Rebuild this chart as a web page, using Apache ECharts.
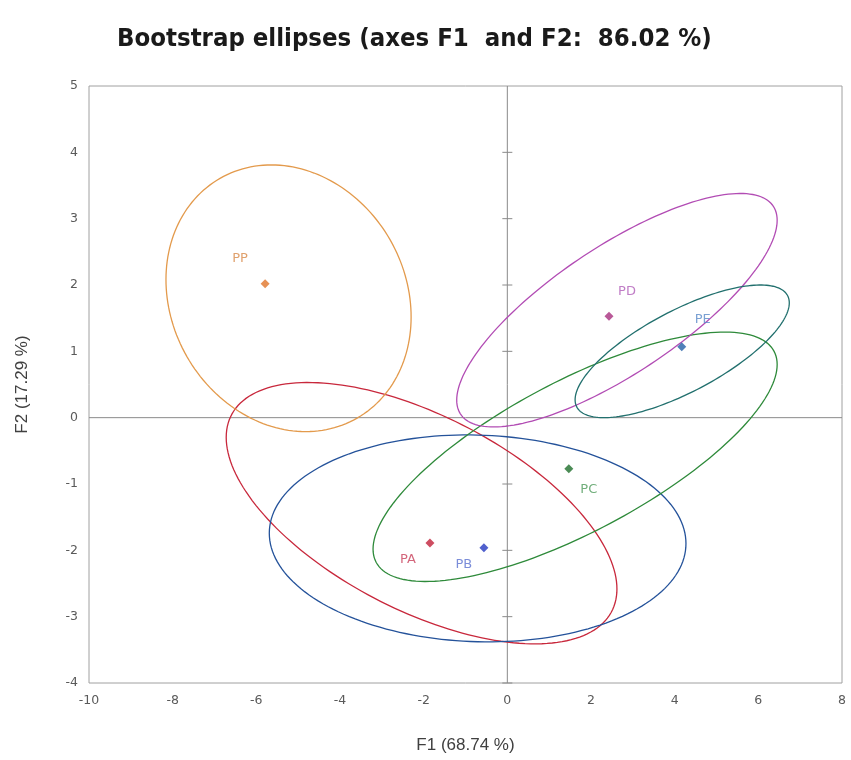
<!DOCTYPE html>
<html>
<head>
<meta charset="utf-8">
<script src="https://cdn.jsdelivr.net/npm/echarts@6/dist/echarts.min.js"></script>
<style>html,body{margin:0;padding:0;background:#fff;}#chart{width:851px;height:760px;}</style>
</head>
<body>
<div id="chart"></div>
<script>
// ---- data ----
const groupNames = ['PA', 'PB', 'PC', 'PD', 'PE', 'PP'];
const pointF1 = [-1.85, -0.56, 1.47, 2.43, 4.17, -5.79];
const pointF2 = [-1.89, -1.96, -0.77, 1.53, 1.07, 2.02];
// bootstrap ellipses: centre, half extent along F1, half extent along F2, correlation
const ellipseCenterF1 = [-2.05, -0.71, 1.62, 2.62, 4.18, -5.23];
const ellipseCenterF2 = [-1.44, -1.82, -0.59, 1.62, 1.00, 1.80];
const ellipseHalfF1 = [4.67, 4.98, 4.83, 3.83, 2.56, 2.93];
const ellipseHalfF2 = [1.97, 1.56, 1.88, 1.76, 1.00, 2.01];
const ellipseCorr = [-0.58, -0.05, 0.74, 0.77, 0.73, -0.14];
const yCrossTicks = [-4, -3, -2, -1, 1, 2, 3, 4];

// ---- styles ----
const ellipseColors = { PA: '#c8283c', PB: '#24529a', PC: '#2e8a3a', PD: '#b24cb4', PE: '#22706e', PP: '#e39a4c' };
const pointColors = { PA: '#c0203a', PB: '#2438c0', PC: '#1e6e2a', PD: '#a8307e', PE: '#2460a8', PP: '#e0762a' };
const labelColors = { PA: '#c8405a', PB: '#5a70d0', PC: '#4e9a5a', PD: '#b05cb8', PE: '#5a8ac8', PP: '#d88a48' };
const labelOffsets = { PA: [-22, 17], PB: [-20, 17], PC: [20, 21], PD: [18, -25], PE: [21, -27], PP: [-25, -25] };

const ellipseData = groupNames.map((n, i) => [ellipseCenterF1[i], ellipseCenterF2[i], ellipseHalfF1[i], ellipseHalfF2[i], ellipseCorr[i], i]);
const pointData = groupNames.map((n, i) => ({
  name: n,
  value: [pointF1[i], pointF2[i]],
  itemStyle: { color: pointColors[n] },
  label: { color: labelColors[n], offset: labelOffsets[n] }
}));

const chart = echarts.init(document.getElementById('chart'), null, { renderer: 'canvas' });
const option = {
  backgroundColor: '#ffffff',
  animation: false,
  title: {
    text: 'Bootstrap ellipses (axes F1  and F2:  86.02 %)',
    left: 112,
    top: 21,
    textStyle: { fontFamily: 'DejaVu Sans Condensed, Liberation Sans Narrow, sans-serif', fontWeight: 'bold', fontSize: 25.5, color: '#1a1a1a' }
  },
  grid: { left: 89, right: 9, top: 86, bottom: 77, show: true, borderColor: '#a0a0a0', borderWidth: 1, backgroundColor: 'transparent' },
  xAxis: {
    type: 'value', min: -10, max: 8, interval: 2,
    name: 'F1 (68.74 %)', nameLocation: 'middle', nameGap: 54,
    nameTextStyle: { fontFamily: 'Liberation Sans, Arial, sans-serif', fontSize: 17, color: '#404040' },
    axisLine: { show: false }, axisTick: { show: false }, splitLine: { show: false },
    axisLabel: { margin: 11, fontFamily: 'DejaVu Sans, sans-serif', fontSize: 12.5, color: '#5a5a5a' }
  },
  yAxis: {
    type: 'value', min: -4, max: 5, interval: 1,
    name: 'F2 (17.29 %)', nameLocation: 'middle', nameGap: 58,
    nameTextStyle: { fontFamily: 'Liberation Sans, Arial, sans-serif', fontSize: 17, color: '#404040' },
    axisLine: { show: false }, axisTick: { show: false }, splitLine: { show: false },
    axisLabel: { margin: 11, fontFamily: 'DejaVu Sans, sans-serif', fontSize: 12.5, color: '#5a5a5a' }
  },
  series: [
    {
      type: 'custom',
      name: 'zero axes',
      silent: true,
      data: [[0, 0]],
      renderItem: function (params, api) {
        const c = '#8a8a8a';
        const children = [];
        const h0 = api.coord([-10, 0]), h1 = api.coord([8, 0]);
        const v0 = api.coord([0, -4]), v1 = api.coord([0, 5]);
        children.push({ type: 'line', shape: { x1: h0[0], y1: h0[1], x2: h1[0], y2: h1[1] }, style: { stroke: c, lineWidth: 1 } });
        children.push({ type: 'line', shape: { x1: v0[0], y1: v0[1], x2: v1[0], y2: v1[1] }, style: { stroke: c, lineWidth: 1 } });
        yCrossTicks.forEach(function (t) {
          const p = api.coord([0, t]);
          children.push({ type: 'line', shape: { x1: p[0] - 5, y1: p[1], x2: p[0] + 5, y2: p[1] }, style: { stroke: c, lineWidth: 1 } });
        });
        return { type: 'group', children: children };
      },
      z: 1
    },
    {
      type: 'custom',
      name: 'ellipses',
      silent: true,
      data: ellipseData,
      encode: { x: 0, y: 1 },
      renderItem: function (params, api) {
        const cx = api.value(0), cy = api.value(1), hx = api.value(2), hy = api.value(3), r = api.value(4);
        const name = groupNames[api.value(5)];
        const s = Math.sqrt(1 - r * r);
        const pts = [];
        for (let k = 0; k < 180; k++) {
          const t = k / 180 * Math.PI * 2;
          pts.push(api.coord([cx + hx * Math.cos(t), cy + hy * (r * Math.cos(t) - s * Math.sin(t))]));
        }
        return { type: 'polygon', shape: { points: pts }, style: { fill: 'none', stroke: ellipseColors[name], lineWidth: 1.3 } };
      },
      z: 2
    },
    {
      type: 'scatter',
      name: 'groups',
      symbol: 'diamond',
      symbolSize: 9,
      data: pointData,
      label: {
        show: true, position: 'inside', formatter: '{b}',
        fontFamily: 'DejaVu Sans, sans-serif', fontSize: 13
      },
      z: 3
    }
  ]
};
chart.setOption(option);
</script>
</body>
</html>
